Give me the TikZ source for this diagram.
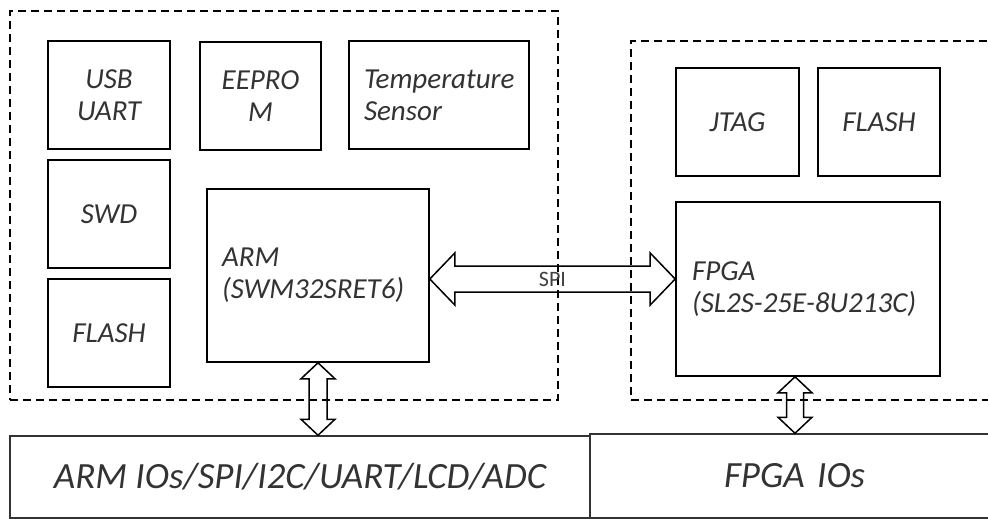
\documentclass[tikz,border=0pt]{standalone}
\usepackage{fontspec}
\setmainfont{Carlito}
\usetikzlibrary{calc}
\newcommand\dblH[5]{% left tip, right tip, head length, head half width, shaft half width
  \draw[arrowline] (#1) -- ($(#1)+(#3,-#4)$) -- ($(#1)+(#3,-#5)$) -- ($(#2)+(-#3,-#5)$) -- ($(#2)+(-#3,-#4)$) -- (#2)
    -- ($(#2)+(-#3,#4)$) -- ($(#2)+(-#3,#5)$) -- ($(#1)+(#3,#5)$) -- ($(#1)+(#3,#4)$) -- cycle;}
\newcommand\dblV[5]{% top tip, bottom tip, head length, head half width, shaft half width
  \draw[arrowline] (#1) -- ($(#1)+(#4,#3)$) -- ($(#1)+(#5,#3)$) -- ($(#2)+(#5,-#3)$) -- ($(#2)+(#4,-#3)$) -- (#2)
    -- ($(#2)+(-#4,-#3)$) -- ($(#2)+(-#5,-#3)$) -- ($(#1)+(-#5,#3)$) -- ($(#1)+(-#4,#3)$) -- cycle;}
\begin{document}
\begin{tikzpicture}[x=1pt,y=-1pt,
  box/.style={draw=black, line width=1.6pt, inner sep=0pt,
    font=\fontsize{29}{32}\selectfont\itshape, text=black!80, align=center},
  lbox/.style={box, align=left},
  group/.style={draw=black, line width=1.6pt, dash pattern=on 8pt off 5pt, inner sep=0pt},
  iobox/.style={draw=black!80, line width=1.5pt, inner sep=0pt,
    font=\fontsize{37}{40}\selectfont\itshape, text=black!80},
  arrowline/.style={draw=black, line width=1.5pt, line join=miter},
  spilabel/.style={font=\fontsize{22}{24}\selectfont, text=black!75, inner sep=0pt}]
\clip (0,0) rectangle (988,519);
\fill[white] (0,0) rectangle (988,519);

% group frames
\node[group, minimum width=548pt, minimum height=389pt] (armgrp) at (284,205.5) {};
\node[group, minimum width=369pt, minimum height=359pt] (fpgagrp) at (815.5,220.5) {};

% ARM side
\node[box, minimum width=122pt, minimum height=108pt] (usb) at (109,95) {USB\\UART};
\node[box, minimum width=121pt, minimum height=108pt] (eeprom) at (260.5,96) {EEPRO\\M};
\node[lbox, text width=150pt, inner xsep=15pt, minimum height=108pt] (temp) at (439,95) {\mbox{Temperature}\\Sensor};
\node[box, minimum width=122pt, minimum height=108pt] (swd) at (109,214) {SWD};
\node[box, minimum width=122pt, minimum height=108pt] (flashL) at (109,333) {FLASH};
\node[lbox, text width=192pt, inner xsep=15pt, minimum height=173pt] (arm) at (318,275.5) {ARM\\\mbox{(SWM32SRET6)}};

% FPGA side
\node[box, minimum width=123pt, minimum height=108pt] (jtag) at (737.5,122) {JTAG};
\node[box, minimum width=122pt, minimum height=108pt] (flashR) at (879,122) {FLASH};
\node[lbox, text width=232pt, inner xsep=16pt, minimum height=174pt] (fpga) at (808,289) {FPGA\\\mbox{(SL2S-25E-8U213C)}};

% IO boxes
\node[iobox, minimum width=580pt, minimum height=82pt] (armio) at (300,477) {ARM IOs/SPI/I2C/UART/LCD/ADC};
\node[iobox, minimum width=410pt, minimum height=84pt, text width=410pt, align=left, inner xsep=0pt] (fpgaio) at (795,476) {\hspace*{134pt}FPGA IOs};

% SPI double arrow
\coordinate (spiY) at (0,279);
\coordinate (spiL) at (arm.east |- spiY);
\coordinate (spiR) at (fpga.west |- spiY);
\dblH{spiL}{spiR}{25}{26}{13}
\node[spilabel] (spi) at ($(spiL)!0.5!(spiR)$) {SPI};

% ARM <-> ARM IOs
\coordinate (armB) at (arm.south |- armio.north);
\dblV{arm.south}{armB}{16}{17}{9}

% FPGA <-> FPGA IOs
\coordinate (fpgaB) at (fpgaio.north);
\coordinate (fpgaT) at (fpgaB |- fpga.south);
\dblV{fpgaT}{fpgaB}{16}{17}{8.5}
\end{tikzpicture}
\end{document}
